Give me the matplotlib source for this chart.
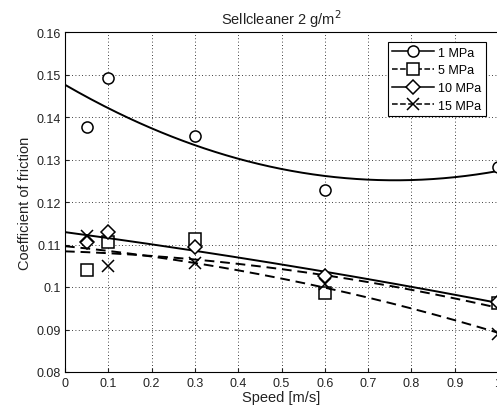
import numpy as np
import matplotlib
matplotlib.use("Agg")
import matplotlib.pyplot as plt

plt.rcParams['font.family'] = ['Liberation Sans', 'DejaVu Sans']

# measured speeds [m/s]
speed = [0.05, 0.1, 0.3, 0.6, 1.0]

# coefficient of friction per contact pressure
cof_1mpa = [0.1377, 0.1492, 0.1356, 0.1229, 0.1282]
cof_5mpa = [0.1041, 0.1105, 0.1112, 0.0985, 0.0962]
cof_10mpa = [0.1107, 0.1129, 0.1093, 0.1027, 0.0965]
cof_15mpa = [0.1121, 0.1050, 0.1056, 0.1006, 0.0890]

labels = ['1 MPa', '5 MPa', '10 MPa', '15 MPa']
markers = ['o', 's', 'D', 'x']
styles = ['-', '--', '-', '--']
series = [cof_1mpa, cof_5mpa, cof_10mpa, cof_15mpa]

fig = plt.figure(figsize=(4.97, 4.14), dpi=100)
ax = fig.add_axes([65 / 497, 1 - 373 / 414, 433 / 497, 340 / 414])

xs = np.linspace(0, 1, 200)
handles = []
for y, m, ls, lab in zip(series, markers, styles, labels):
    coef = np.polyfit(speed, y, 2)
    ax.plot(xs, np.polyval(coef, xs), color='k', ls=ls, lw=1.4,
            dashes=(5, 3) if ls == '--' else (None, None))
    ms = 7 if m == 'D' else 8
    ax.plot(speed, y, ls='none', marker=m, ms=ms, mfc='white', mec='k',
            mew=1.1, color='k', clip_on=False)
    h, = ax.plot([], [], color='k', ls=ls, lw=1.1, marker=m, ms=ms,
                 mfc='white', mec='k', mew=1.1)
    handles.append(h)

ax.set_xlim(0, 1)
ax.set_ylim(0.08, 0.16)
ax.set_xticks(np.arange(0, 1.01, 0.1))
ax.set_xticklabels(['0', '0.1', '0.2', '0.3', '0.4', '0.5', '0.6', '0.7',
                    '0.8', '0.9', '1'])
ax.set_yticks(np.arange(0.08, 0.161, 0.01))
ax.set_yticklabels(['0.08', '0.09', '0.1', '0.11', '0.12', '0.13', '0.14',
                    '0.15', '0.16'])
ax.tick_params(direction='in', labelsize=9, length=3, colors='#222222')
ax.tick_params(axis='y', pad=3)
ax.grid(True, ls=(0, (1, 3)), color='k', lw=0.6)
for s in ax.spines.values():
    s.set_linewidth(0.8)

ax.set_xlabel('Speed [m/s]', fontsize=10.5, labelpad=1, color='#222222')
ax.set_ylabel('Coefficient of friction', fontsize=10.5, labelpad=3,
              color='#222222')
ax.set_title('Sellcleaner 2 g/m$^2$', fontsize=10.5, pad=6, color='#222222')

leg = ax.legend(handles, labels, loc='upper right', fontsize=9,
                handlelength=3.3, handletextpad=0.35, borderpad=0.35,
                labelspacing=0.45, fancybox=False, framealpha=1,
                edgecolor='k', bbox_to_anchor=(0.986, 0.988))
leg.get_frame().set_linewidth(0.8)

plt.savefig('out.png', dpi=100)
